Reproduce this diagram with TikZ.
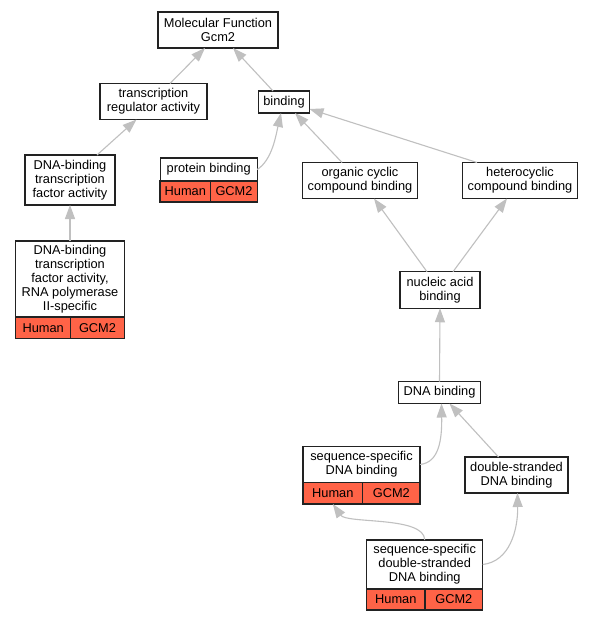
\documentclass[tikz,border=0pt]{standalone}
\usepackage{fontspec}
\setmainfont{Liberation Sans}
\usetikzlibrary{arrows.meta}
\definecolor{edgegray}{HTML}{C0C0C0}
\definecolor{tomatored}{HTML}{FF6347}
\definecolor{borderc}{HTML}{222222}
\begin{document}
\begin{tikzpicture}[x=1pt,y=-1pt,
 box/.style={draw=borderc, line width=1.2pt, fill=white, inner sep=0pt, outer sep=0pt, align=center, font=\fontsize{12.8}{14}\selectfont},
 redbox/.style={box, fill=tomatored},
 edge/.style={draw=edgegray, line width=1.1pt, -{Triangle[length=14pt,width=10pt,fill=edgegray]}}]
\useasboundingbox (0,0) rectangle (593,621);
\fill[white] (0,0) rectangle (593,621);
% nodes
\node[box, minimum width=120pt, minimum height=36pt] (mf) at (218,30) {Molecular Function\\Gcm2};
\node[box, minimum width=107pt, minimum height=36pt] (tra) at (153.5,101.5) {transcription\\regulator activity};
\node[box, minimum width=51pt, minimum height=22pt] (bind) at (284,102) {binding};
\node[box, minimum width=90pt, minimum height=50pt] (dtf) at (70,180) {DNA-binding\\transcription\\factor activity};
\node[box, minimum width=97pt, minimum height=23pt] (pb) at (208.7,169.5) {protein binding};
\node[redbox, minimum width=50.7pt, minimum height=21pt] (pbh) at (185.3,191.5) {Human};
\node[redbox, minimum width=46.6pt, minimum height=21pt] (pbg) at (234,191.5) {GCM2};
\node[box, minimum width=115pt, minimum height=36pt] (occ) at (360,180.5) {organic cyclic\\compound binding};
\node[box, minimum width=115pt, minimum height=36pt] (hcb) at (520,180.5) {heterocyclic\\compound binding};
\node[box, minimum width=108.6pt, minimum height=76pt] (rna) at (70,279) {DNA-binding\\transcription\\factor activity,\\RNA polymerase\\II-specific};
\node[redbox, minimum width=55pt, minimum height=21.5pt] (rnah) at (43.2,327.7) {Human};
\node[redbox, minimum width=53.6pt, minimum height=21.5pt] (rnag) at (97.5,327.7) {GCM2};
\node[box, minimum width=80pt, minimum height=36.5pt] (nab) at (440,290) {nucleic acid\\binding};
\node[box, minimum width=82pt, minimum height=22pt] (dnab) at (439.5,392.5) {DNA binding};
\node[box, minimum width=117pt, minimum height=36pt] (ssb) at (361.5,464.5) {sequence-specific\\DNA binding};
\node[redbox, minimum width=59.7pt, minimum height=21.5pt] (ssbh) at (332.8,493.2) {Human};
\node[redbox, minimum width=57.3pt, minimum height=21.5pt] (ssbg) at (391.3,493.2) {GCM2};
\node[box, minimum width=103pt, minimum height=36pt] (dsb) at (516.5,475) {double-stranded\\DNA binding};
\node[box, minimum width=116pt, minimum height=49pt] (ssds) at (424.7,564.5) {sequence-specific\\double-stranded\\DNA binding};
\node[redbox, minimum width=58.3pt, minimum height=21pt] (ssdsh) at (395.8,599.5) {Human};
\node[redbox, minimum width=57.7pt, minimum height=21pt] (ssdsg) at (453.8,599.5) {GCM2};
% edges
\draw[edge] ([xshift=16.5pt]tra.north) -- ([xshift=-13pt]mf.south);
\draw[edge] ([xshift=-11pt]bind.north) -- ([xshift=15pt]mf.south);
\draw[edge] ([xshift=27pt]dtf.north) -- ([xshift=-17pt]tra.south);
\draw[edge] (rna.north) -- (dtf.south);
\draw[edge] (pb.east) .. controls +(15,-9.5) and +(-5,22) .. ([xshift=-3pt]bind.south);
\draw[edge] ([xshift=-18pt]occ.north) -- ([xshift=11pt]bind.south);
\draw[edge] ([xshift=-43pt]hcb.north) -- ([yshift=-7pt]bind.east);
\draw[edge] ([xshift=-13pt]nab.north) -- ([xshift=14pt]occ.south);
\draw[edge] ([xshift=13pt]nab.north) -- ([xshift=-13pt]hcb.south);
\draw[edge] (dnab.north) -- (nab.south);
\draw[edge] (ssb.east) .. controls +(19,-2) and +(0.5,36.5) .. ([xshift=2pt]dnab.south);
\draw[edge] ([xshift=-18pt]dsb.north) -- ([xshift=10pt]dnab.south);
\draw[edge] (ssds.north) .. controls +(0,-24) and +(14,20) .. (ssbh.south);
\draw[edge] (ssds.east) .. controls +(27,-3) and +(0.5,37) .. ([xshift=1pt]dsb.south);
\end{tikzpicture}
\end{document}
